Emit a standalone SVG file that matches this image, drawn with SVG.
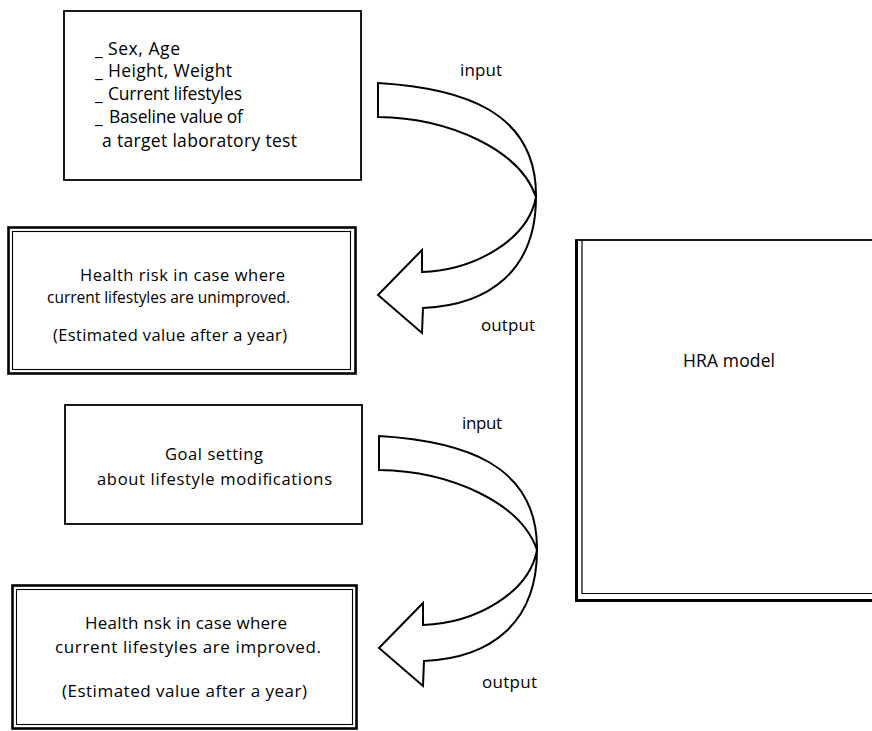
<svg xmlns="http://www.w3.org/2000/svg" xmlns:xlink="http://www.w3.org/1999/xlink" width="872" height="731" viewBox="0 0 872 731">
<style>
text{font-family:"Open Sans","Noto Sans","DejaVu Sans",sans-serif;font-size:16.5px;fill:#000}
.big{font-size:17.5px}
.b4{font-size:17px}
.sm{font-size:15.5px}
.box{fill:#fff;stroke:#000;stroke-width:1.8}
.outer{fill:#fff;stroke:#000;stroke-width:2.6}
.inner{fill:none;stroke:#000;stroke-width:1.1}
.arrow{fill:#fff;stroke:#000;stroke-width:2;stroke-linejoin:miter}
</style>
<defs>
<path id="ribbon" class="arrow" d="M0,0 C82,5 159,27 158,114 C158,187 112,222 45,225 L44,250 L0,212 L44,167 L44,189 C97,187 150,157 158,114 C142,67 72,35 0,34 Z"/>
</defs>
<rect width="872" height="731" fill="#fff"/>

<g id="inputs1">
<rect class="box" x="64" y="11" width="297" height="169"/>
<text class="big"><tspan x="95" y="55">_</tspan><tspan x="108" y="55" textLength="72" lengthAdjust="spacing">Sex, Age</tspan></text>
<text class="big"><tspan x="95" y="77">_</tspan><tspan x="108" y="77" textLength="124" lengthAdjust="spacing">Height, Weight</tspan></text>
<text class="big"><tspan x="95" y="100">_</tspan><tspan x="108" y="100" textLength="134" lengthAdjust="spacing">Current lifestyles</tspan></text>
<text class="big"><tspan x="95" y="123">_</tspan><tspan x="109" y="123" textLength="134" lengthAdjust="spacing">Baseline value of</tspan></text>
<text class="big" x="102" y="147" textLength="195" lengthAdjust="spacing">a target laboratory test</text>
</g>

<g id="risk-unimproved">
<rect class="outer" x="8.5" y="227.5" width="347" height="146"/>
<rect class="inner" x="12.5" y="231.5" width="338" height="138"/>
<text x="80" y="281" textLength="205" lengthAdjust="spacing">Health risk in case where</text>
<text class="sm" x="47" y="303" textLength="243" lengthAdjust="spacing">current lifestyles are unimproved.</text>
<text x="53" y="341" textLength="234" lengthAdjust="spacing">(Estimated value after a year)</text>
</g>

<g id="goal-setting">
<rect class="box" x="65" y="405" width="297" height="119"/>
<text x="165" y="460" textLength="98" lengthAdjust="spacing">Goal setting</text>
<text x="97" y="485" textLength="235" lengthAdjust="spacing">about lifestyle modifications</text>
</g>

<g id="risk-improved">
<rect class="outer" x="12.5" y="585.5" width="344" height="143"/>
<rect class="inner" x="16.5" y="589.5" width="336" height="135"/>
<text class="b4" x="85" y="629" textLength="202" lengthAdjust="spacing">Health nsk in case where</text>
<text class="b4" x="55" y="653" textLength="266" lengthAdjust="spacing">current lifestyles are improved.</text>
<text class="b4" x="62" y="697" textLength="245" lengthAdjust="spacing">(Estimated value after a year)</text>
</g>

<g id="hra-model">
<rect class="box" x="576" y="240" width="310" height="360" stroke-width="1.2"/>
<path d="M576.5,240 V600.5 H872" fill="none" stroke="#000" stroke-width="3"/>
<path d="M582,240 V593.5 H872" fill="none" stroke="#000" stroke-width="1.2"/>
<text class="big" x="683" y="367" textLength="92" lengthAdjust="spacing">HRA model</text>
</g>

<g id="connectors">
<use xlink:href="#ribbon" transform="translate(378,83)"/>
<use xlink:href="#ribbon" transform="translate(379,436)"/>
<text class="b4" x="460" y="76" textLength="42" lengthAdjust="spacing">input</text>
<text class="b4" x="481" y="331" textLength="54" lengthAdjust="spacing">output</text>
<text class="b4" x="462" y="429" textLength="40" lengthAdjust="spacing">input</text>
<text class="b4" x="482" y="688" textLength="55" lengthAdjust="spacing">output</text>
</g>
</svg>
